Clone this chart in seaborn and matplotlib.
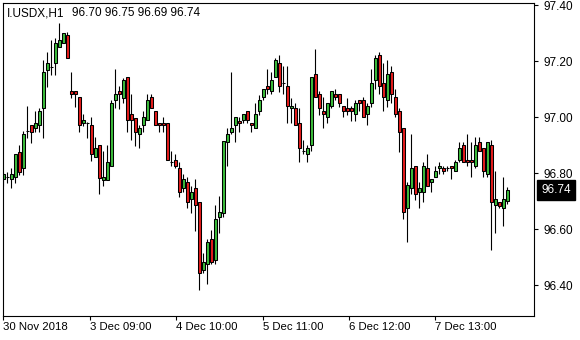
import matplotlib
matplotlib.use("Agg")
import matplotlib.pyplot as plt
import matplotlib.transforms as mtransforms
import numpy as np
import pandas as pd
import seaborn as sns

# ---- data (hourly candles, I.USDX H1) ----
opens = [96.777, 96.786, 96.777, 96.785, 96.876, 96.817, 96.950, 96.970, 96.960, 96.970,
         97.031, 97.168, 97.180, 97.192, 97.251, 97.263, 97.293, 97.093, 97.093, 97.070,
         96.977, 96.977, 96.970, 96.856, 96.899, 96.776, 96.776, 96.826, 97.060, 97.093,
         97.069, 97.142, 97.009, 96.998, 96.938, 96.970, 96.989, 97.070, 97.021, 96.977,
         96.977, 96.977, 96.838, 96.845, 96.817, 96.745, 96.767, 96.706, 96.745, 96.695,
         96.454, 96.474, 96.563, 96.491, 96.644, 96.656, 96.909, 96.948, 96.970, 96.987,
         96.989, 97.021, 96.977, 96.960, 97.021, 97.070, 97.111, 97.093, 97.142, 97.192,
         97.120, 97.111, 97.031, 97.031, 96.977, 96.878, 96.867, 96.900, 97.152, 97.082,
         97.021, 96.999, 97.039, 97.082, 97.082, 97.039, 97.031, 97.031, 97.009, 97.060,
         97.060, 97.009, 97.049, 97.132, 97.221, 97.120, 97.061, 97.160, 97.070, 97.021,
         96.960, 96.674, 96.745, 96.826, 96.733, 96.733, 96.817, 96.767, 96.785, 96.817,
         96.817, 96.817, 96.826, 96.807, 96.846, 96.900, 96.846, 96.846, 96.826, 96.909,
         96.888, 96.796, 96.900, 96.686, 96.695, 96.674, 96.700]
highs = [96.805, 96.805, 96.817, 96.867, 96.900, 96.950, 97.039, 96.970, 97.021, 97.031,
         97.202, 97.231, 97.275, 97.281, 97.334, 97.301, 97.302, 97.160, 97.093, 97.070,
         97.009, 96.983, 96.999, 96.930, 96.899, 96.880, 96.900, 97.061, 97.170, 97.111,
         97.138, 97.142, 97.082, 96.998, 96.971, 97.021, 97.082, 97.082, 97.021, 96.977,
         96.999, 96.977, 96.878, 96.867, 96.838, 96.796, 96.787, 96.755, 96.779, 96.695,
         96.513, 96.564, 96.596, 96.686, 96.718, 96.915, 96.960, 97.160, 96.999, 96.999,
         97.009, 97.021, 96.977, 97.049, 97.079, 97.099, 97.170, 97.160, 97.212, 97.221,
         97.182, 97.182, 97.069, 97.049, 97.031, 96.918, 96.900, 97.142, 97.242, 97.093,
         97.070, 97.049, 97.093, 97.099, 97.082, 97.039, 97.069, 97.039, 97.060, 97.060,
         97.070, 97.049, 97.170, 97.221, 97.231, 97.192, 97.202, 97.182, 97.099, 97.031,
         96.960, 96.767, 96.938, 96.826, 96.767, 96.838, 96.867, 96.777, 96.826, 96.838,
         96.826, 96.826, 96.826, 96.846, 96.909, 96.909, 96.938, 96.909, 96.930, 96.930,
         96.888, 96.909, 96.918, 96.807, 96.695, 96.787, 96.750]
lows = [96.755, 96.765, 96.745, 96.765, 96.793, 96.793, 96.926, 96.908, 96.948, 96.948,
        96.926, 97.108, 97.150, 97.150, 97.251, 97.263, 97.212, 97.069, 97.037, 96.948,
        96.968, 96.926, 96.844, 96.856, 96.724, 96.755, 96.776, 96.826, 97.031, 97.027,
        97.049, 96.948, 96.918, 96.896, 96.888, 96.948, 96.989, 97.031, 96.970, 96.948,
        96.948, 96.845, 96.826, 96.817, 96.715, 96.733, 96.674, 96.656, 96.594, 96.382,
        96.442, 96.402, 96.474, 96.474, 96.584, 96.644, 96.826, 96.938, 96.909, 96.948,
        96.977, 96.977, 96.948, 96.960, 97.007, 97.060, 97.082, 97.082, 97.142, 97.091,
        97.082, 96.977, 96.977, 96.970, 96.838, 96.868, 96.838, 96.878, 97.070, 97.007,
        96.960, 96.977, 97.031, 97.060, 97.037, 96.999, 97.007, 96.987, 96.987, 97.021,
        96.999, 96.970, 97.037, 97.099, 97.082, 97.021, 97.037, 97.049, 96.999, 96.876,
        96.634, 96.552, 96.724, 96.704, 96.674, 96.695, 96.755, 96.733, 96.785, 96.796,
        96.796, 96.807, 96.777, 96.807, 96.838, 96.838, 96.826, 96.787, 96.817, 96.878,
        96.787, 96.787, 96.525, 96.584, 96.674, 96.612, 96.690]
closes = [96.795, 96.786, 96.795, 96.867, 96.805, 96.938, 96.950, 96.948, 96.977, 97.021,
          97.160, 97.192, 97.180, 97.263, 97.275, 97.301, 97.212, 97.081, 97.081, 96.970,
          96.989, 96.977, 96.867, 96.888, 96.783, 96.785, 96.838, 97.049, 97.081, 97.081,
          97.131, 96.989, 96.989, 96.948, 96.960, 96.999, 97.060, 97.031, 96.970, 96.970,
          96.970, 96.845, 96.838, 96.826, 96.733, 96.777, 96.695, 96.733, 96.686, 96.442,
          96.481, 96.552, 96.481, 96.634, 96.662, 96.915, 96.938, 96.960, 96.999, 96.977,
          97.009, 96.989, 96.970, 97.009, 97.060, 97.099, 97.099, 97.132, 97.202, 97.111,
          97.120, 97.039, 97.039, 96.970, 96.888, 96.878, 96.888, 97.142, 97.070, 97.031,
          97.009, 97.049, 97.093, 97.070, 97.049, 97.021, 97.021, 97.021, 97.049, 97.049,
          96.999, 97.039, 97.120, 97.212, 97.111, 97.070, 97.152, 97.081, 97.009, 96.948,
          96.662, 96.757, 96.817, 96.724, 96.745, 96.826, 96.755, 96.777, 96.807, 96.826,
          96.807, 96.817, 96.817, 96.838, 96.888, 96.838, 96.838, 96.838, 96.900, 96.878,
          96.807, 96.909, 96.695, 96.706, 96.683, 96.706, 96.740]

time_labels = ["30 Nov 2018", "3 Dec 09:00", "4 Dec 10:00", "5 Dec 11:00",
               "6 Dec 12:00", "7 Dec 13:00"]
price_ticks = [96.40, 96.60, 96.80, 97.00, 97.20, 97.40]
symbol = "I.USDX,H1"
last_price = 96.74

df = pd.DataFrame({"o": opens, "h": highs, "l": lows, "c": closes})
df["idx"] = np.arange(len(df))
df["bull"] = df["c"] >= df["o"]

# ---- styling ----
sns.set_theme(style="white")
plt.rcParams["font.family"] = ["Liberation Sans", "DejaVu Sans"]

W, H = 580, 340
fig = plt.figure(figsize=(W / 100, H / 100), dpi=100)
left, right, top, bottom = 2.5, 534, 2.5, 316
ax = fig.add_axes([left / W, (H - bottom) / H, (right - left) / W, (bottom - top) / H])

bull_col = "#3cbc3c"
bear_col = "#e41c1c"

# wicks
ax.vlines(df["idx"], df["l"], df["h"], color="black", linewidth=0.8, zorder=1)
# bodies
body_bottom = np.minimum(df["o"], df["c"])
body_height = np.abs(df["c"] - df["o"])
colors = [bull_col if b else bear_col for b in df["bull"]]
ax.bar(df["idx"], body_height, bottom=body_bottom, width=0.62, color=colors,
       edgecolor="black", linewidth=0.75, zorder=2)

# axis limits (pixel mapping: bar 0 at x=3.3, 4 px per bar)
xmin = -0.2
ax.set_xlim(xmin, xmin + (right - left) / 4.0)
ymax = 97.40 + (5 - top) / 280.0
ymin = 97.40 - (bottom - 5) / 280.0
ax.set_ylim(ymin, ymax)

for s in ax.spines.values():
    s.set_visible(True)
    s.set_color("black")
    s.set_linewidth(0.8)

# y axis on the right
ax.yaxis.tick_right()
ax.set_yticks(price_ticks)
ax.set_yticklabels([f"{p:.2f}" for p in price_ticks])
ax.tick_params(axis="y", direction="out", length=3, width=0.8, pad=3.5,
               labelsize=8.5, colors="black", right=True, left=False)

# x axis ticks
xt = [21.6 * k for k in range(len(time_labels))]
ax.set_xticks(xt)
ax.set_xticklabels(time_labels, ha="left")
ax.tick_params(axis="x", direction="out", length=3, width=0.8, pad=1.5,
               labelsize=8.2, colors="black", bottom=True)

# current price box
trans = mtransforms.blended_transform_factory(ax.transAxes, ax.transData)
ax.text(1.0135, last_price, f"{last_price:.2f}", transform=trans, ha="left", va="center",
        color="white", fontsize=8.5,
        bbox=dict(boxstyle="square,pad=0.36", facecolor="black", edgecolor="black"))

# header
fig.text(7 / W, 1 - 13 / H, symbol, ha="left", va="center", fontsize=8.5, color="black")
fig.text(72 / W, 1 - 13 / H, f"{opens[-1]:.2f} {highs[-1]:.2f} {lows[-1]:.2f} {closes[-1]:.2f}",
         ha="left", va="center", fontsize=8.5, color="black")

fig.savefig("out.png", dpi=100)
